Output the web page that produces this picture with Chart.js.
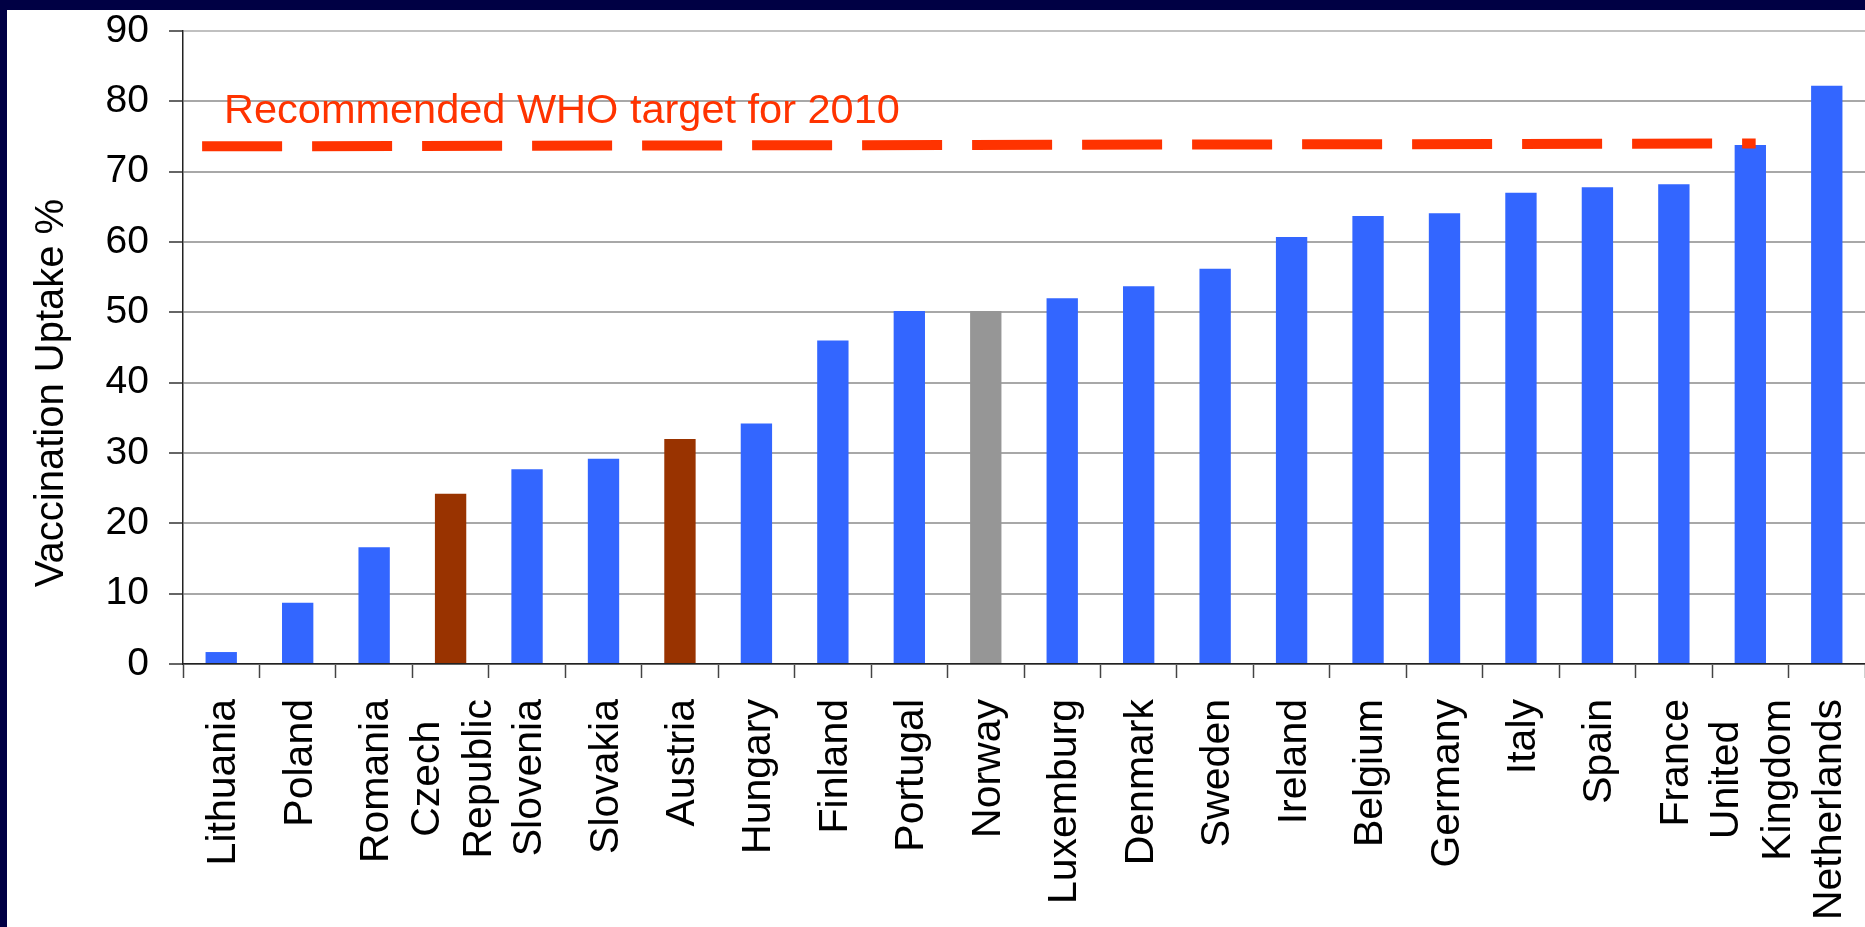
<!DOCTYPE html>
<html>
<head>
<meta charset="utf-8">
<script src="https://cdn.jsdelivr.net/npm/chart.js@4.4.1/dist/chart.umd.min.js"></script>
<style>
  html, body { margin: 0; padding: 0; background: #ffffff; overflow: hidden; }
  #wrap { position: absolute; left: 0; top: 0; width: 1865px; height: 927px; }
  #c { display: block; }
</style>
</head>
<body>
<div id="wrap"><canvas id="c" width="1865" height="927"></canvas></div>
<script>
// ---------------- DATA ----------------
const countries = [
  ['Lithuania'], ['Poland'], ['Romania'], ['Czech', 'Republic'], ['Slovenia'],
  ['Slovakia'], ['Austria'], ['Hungary'], ['Finland'], ['Portugal'], ['Norway'],
  ['Luxemburg'], ['Denmark'], ['Sweden'], ['Ireland'], ['Belgium'], ['Germany'],
  ['Italy'], ['Spain'], ['France'], ['United', 'Kingdom'], ['Netherlands']
];
const uptake = [1.7, 8.7, 16.6, 24.2, 27.7, 29.2, 32.0, 34.2, 46.0, 50.2, 50.2,
                52.0, 53.7, 56.2, 60.7, 63.7, 64.1, 67.0, 67.8, 68.2, 73.8, 82.2];
const yTicks = [0, 10, 20, 30, 40, 50, 60, 70, 80, 90];
const yAxisTitle = 'Vaccination Uptake %';
const targetLabel = 'Recommended WHO target for 2010';
// WHO target line: category-index positions (start / end) and values
const targetX = [-0.25, 20.07];
const targetY = [73.6, 74.0];
const brownCountries = ['Czech Republic', 'Austria'];
const greyCountries = ['Norway'];

// ---------------- STYLE ----------------
const FONT = '"Liberation Sans", Arial, Helvetica, sans-serif';
const BLUE = '#3366FF', BROWN = '#993300', GREY = '#969696', RED = '#FF3300';
const NAVY = '#000044';

const barColors = countries.map(c => {
  const n = c.join(' ');
  if (brownCountries.includes(n)) return BROWN;
  if (greyCountries.includes(n)) return GREY;
  return BLUE;
});

const backgroundPlugin = {
  id: 'bg',
  beforeDraw(chart) {
    const ctx = chart.ctx;
    ctx.save();
    ctx.fillStyle = '#ffffff';
    ctx.fillRect(0, 0, chart.width, chart.height);
    ctx.fillStyle = NAVY;
    ctx.fillRect(0, 0, chart.width, 10);
    ctx.fillRect(0, 0, 7, chart.height);
    ctx.restore();
  }
};

const textPlugin = {
  id: 'texts',
  afterDraw(chart) {
    const ctx = chart.ctx;
    const xs = chart.scales.x;
    ctx.save();
    // x category labels (rotated, multi-line centred)
    ctx.fillStyle = '#000000';
    ctx.font = '41px ' + FONT;
    ctx.textAlign = 'center';
    ctx.textBaseline = 'alphabetic';
    const lineGap = 52, yTop = 699, capHalf = 14;
    countries.forEach((lines, i) => {
      const cx = xs.getPixelForValue(i);
      const maxW = Math.max(...lines.map(l => ctx.measureText(l).width));
      lines.forEach((l, j) => {
        const bx = cx + (j - (lines.length - 1) / 2) * lineGap + capHalf;
        ctx.save();
        ctx.translate(bx, yTop + maxW / 2);
        ctx.rotate(-Math.PI / 2);
        ctx.fillText(l, 0, 0);
        ctx.restore();
      });
    });
    // y axis title
    ctx.font = '40px ' + FONT;
    ctx.save();
    ctx.translate(63, 393);
    ctx.rotate(-Math.PI / 2);
    ctx.textAlign = 'center';
    ctx.fillText(yAxisTitle, 0, 0);
    ctx.restore();
    // WHO target label
    ctx.font = '41.5px ' + FONT;
    ctx.fillStyle = RED;
    ctx.textAlign = 'left';
    ctx.fillText(targetLabel, 224, 122.5);
    ctx.restore();
  }
};

new Chart(document.getElementById('c'), {
  type: 'bar',
  data: {
    labels: countries.map(c => c.join(' ')),
    datasets: [
      {
        type: 'bar',
        data: uptake,
        backgroundColor: barColors,
        borderWidth: 0,
        categoryPercentage: 1.0,
        barPercentage: 0.41,
        order: 1
      },
      {
        type: 'line',
        parsing: false,
        data: targetX.map((x, i) => ({ x: x, y: targetY[i] })),
        borderColor: RED,
        borderWidth: 10,
        borderDash: [80, 30],
        borderCapStyle: 'butt',
        pointRadius: 0,
        fill: false,
        order: 0
      }
    ]
  },
  plugins: [backgroundPlugin, textPlugin],
  options: {
    responsive: false,
    maintainAspectRatio: false,
    devicePixelRatio: 1,
    animation: false,
    events: [],
    layout: { padding: { left: 0, top: 31, right: 0, bottom: 0 } },
    plugins: { legend: { display: false }, tooltip: { enabled: false } },
    scales: {
      x: {
        type: 'category',
        offset: true,
        ticks: { display: false },
        grid: {
          offset: true,
          drawOnChartArea: false,
          drawTicks: true,
          tickLength: 14,
          tickColor: '#444444',
          tickWidth: 1.5
        },
        border: { color: '#222222', width: 1.5 },
        afterFit(s) {
          s.height = 263;
          s.paddingLeft = 0; s.paddingRight = 0;
        }
      },
      y: {
        min: yTicks[0],
        max: yTicks[yTicks.length - 1],
        afterBuildTicks(s) { s.ticks = yTicks.map(v => ({ value: v })); },
        ticks: {
          color: '#000000',
          font: { family: FONT, size: 39 },
          padding: 20
        },
        grid: {
          color: (c) => (c.tick && c.tick.value === 90) ? '#c0c0c0' : '#a8a8a8',
          lineWidth: 2,
          tickLength: 14,
          tickColor: '#333333',
          tickWidth: 1.5
        },
        border: { color: '#222222', width: 1.5 },
        afterFit(s) {
          s.width = 183;
          s.paddingTop = 0; s.paddingBottom = 0;
        }
      }
    }
  }
});
</script>
</body>
</html>
